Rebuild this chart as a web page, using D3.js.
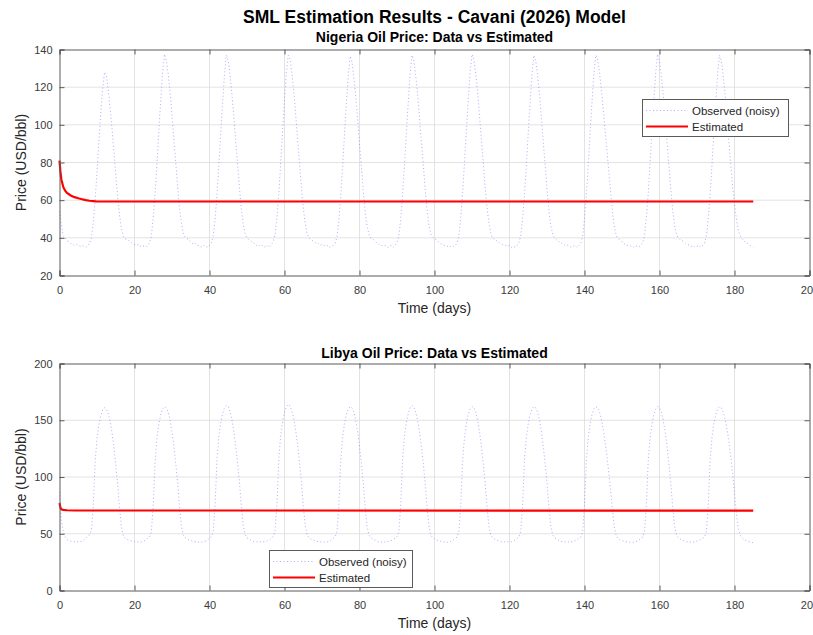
<!DOCTYPE html>
<html><head><meta charset="utf-8">
<script src="https://cdn.jsdelivr.net/npm/d3@7"></script>
<style>body{margin:0;background:#fff} svg{display:block}</style>
</head><body>
<script>
// ---------- data (0.5-day sampling) ----------
const sampleStep = 0.5;
const nigeriaObserved = [
54,47,41,40,38.5,38,37,36.5,36,36.5,36,35.5,36,35.5,35,35.5,
37,40,48,60,75,91,106,119,128,126,119,109,98,86,74,62,52,45,41,39.5,39,
38.5,38,37,36.5,36,36.5,35.5,36,35.5,35,36,
37.5,41,51,64,80,97,113,128,137.5,134,127,117,105,92,80,67,56,48,42.5,40.5,39.5,
39,38,37,37.5,36,36,35.5,35,36,35.5,35,36,
37,41,50,63,79,96,112,127,137,134,126,116,104,91,79,66,55,47,42,40,39,
38.5,37.5,37,36,36.5,35.5,36,35,35.5,36,35,36.5,
38,42,51,64,80,97,113,128,137,135,127,117,105,92,80,67,56,48,42.5,40,39,
38.5,38,37,37,36,36.5,36,35.5,36,35,35.5,36,
37,40.5,49,62,78,95,111,126,136.5,133.5,125,115,103,90,78,65,54,46.5,42,40,39.5,
38.5,37.5,37,36,36,35.5,36,35,35.5,36,35,36,
37.5,41,50,63,79,96,112,127,137,134,126,116,104,91,79,66,55,47,42,40.5,39.5,
39,38,37,36.5,36,36,35.5,35,36,35.5,36,
37,41,51,64,80,97,113,128,137.5,134.5,127,117,105,92,80,67,56,48,42.5,40,39,
38.5,38,37,36.5,36,36,35.5,36,35,35.5,35,36,
37.5,41,50,63,79,96,112,127,137,134,126,116,104,91,79,66,55,47,42,40,39,
38.5,37.5,37,36,36.5,36,35.5,35,35.5,36,35,36,
37,41,50,63,79,96,112,127,137,135,128,119,108,97,86,75,64,53,45,41,39.5,
39,38,37,36.5,36,36,35.5,35,36,35.5,35,36,
37.5,41,51,64,80,97,113,128,137.5,134,126,116,104,91,79,66,55,47,42,40,39,
38.5,38,37,36.5,36,35.5,36,35,35.5,36,35,36,
37,41,50,63,79,96,112,127,137,134,126,116,104,91,79,67,58,50,44,41,39.5,38.5,37.5,37,36,35.5,35
];
const libyaObserved = [
87,62,52,47.5,45,44,43.5,43,43,42.5,43,43,43.5,44.5,46,48,
49,53,74,113,134,146,154,159,161,160,156,149,139,126,111,94,73,56,48.5,46,45,
44.5,44,43.5,43,42.5,43,42.5,43,43.5,44.5,46,
47,52,75,115,135,147,155,160,162,161,157,150,140,127,112,95,74,57,49,46.5,45.5,
44.5,44,43.5,43,43,42.5,43,42.5,43,43.5,44.5,46,
47.5,52,76,116,136,148,156,161,163,162,157.5,150,140,127,112,95,74,57,49,46.5,45.5,
44.5,43.5,43,43,42.5,43,42.5,43,43,44,44.5,46,
48,53,77,117,137,149,157,162,164,162.5,158,151,141,128,113,96,75,58,49.5,46.5,45.5,
44.5,44,43.5,43,43,42.5,42.5,43,43,43.5,44.5,46,
47,52,75,115,135,147,155,160,162,161,157,150,140,127,112,95,74,57,49,46.5,45.5,
44.5,44,43,43,42.5,43,42.5,43,43.5,44,45,46,
47.5,52,76,116,136,148,156,161,163,161.5,157,150,140,127,112,95,74,57,49,46.5,45.5,
44.5,44,43.5,43,42.5,43,42.5,43,43.5,44.5,46,
47,52,75,115,135,147,155,160,162,161,157,150,140,127,112,95,74,57,49,46.5,45.5,
44.5,44,43.5,43,43,42.5,43,42.5,43,43.5,44.5,46,
47,52,75,115,135,147,155,160,162,161,157,150,140,127,112,95,74,57,49,46.5,45.5,
44.5,43.5,43,43,42.5,43,42.5,43,43,44,44.5,46,
47,52,75,115,135,147,155,160,162,161,157.5,151,142,131,118,103,87,70,55,48,45.5,
44.5,44,43.5,43,43,42.5,43,42.5,43,43.5,44.5,46,
47,52,75,115,135,147,155,160,162,161,157,150,140,127,112,95,74,57,49,46.5,45.5,
44.5,44,43,43,42.5,43,42.5,43,43.5,44,45,46,
47,52,75,115,135,147,155,160,162,161,157,151,142,131,118,103,86,68,55,49,46.5,45,44,43.5,43,42.5,42
];
const nigeriaEstDays = [0,0.25,0.5,1,1.5,2,3,4,5,6,7,8,9,10,185];
const nigeriaEstimated = [81,75,71,67,65,63.8,62.5,61.6,61,60.5,60,59.7,59.5,59.3,59.3];
const libyaEstDays = [0,0.25,0.5,1,2,4,185];
const libyaEstimated = [77,73,71.5,71,70.7,70.5,70.4];

const xTicks = [0,20,40,60,80,100,120,140,160,180,200];
const nigeriaYTicks = [20,40,60,80,100,120,140];
const libyaYTicks = [0,50,100,150,200];

const mainTitle = "SML Estimation Results - Cavani (2026) Model";
const panelTitles = ["Nigeria Oil Price: Data vs Estimated", "Libya Oil Price: Data vs Estimated"];
const xLabel = "Time (days)";
const yLabel = "Price (USD/bbl)";
const legendLabels = ["Observed (noisy)", "Estimated"];

// ---------- drawing ----------
const W = 813, H = 635;
const FONT = "'Liberation Sans', Arial, Helvetica, sans-serif";
const svg = d3.select("body").append("svg").attr("width", W).attr("height", H)
  .style("font-family", FONT);

svg.append("text").attr("x", 434.5).attr("y", 23).attr("text-anchor", "middle")
  .attr("font-size", 17.5).attr("font-weight", "bold").attr("fill", "#000").text(mainTitle);

const panels = [
  {obs: nigeriaObserved, estX: nigeriaEstDays, est: nigeriaEstimated, yDomain: [20,140], yTicks: nigeriaYTicks,
   top: 49.5, bottom: 275.5, title: panelTitles[0], titleY: 42, legend: {x: 642, y: 99, w: 146, h: 37}},
  {obs: libyaObserved, estX: libyaEstDays, est: libyaEstimated, yDomain: [0,200], yTicks: libyaYTicks,
   top: 363.5, bottom: 590.5, title: panelTitles[1], titleY: 358, legend: {x: 269, y: 550, w: 143, h: 37}}
];
const left = 59.5, right = 809.5;

panels.forEach(p => {
  const x = d3.scaleLinear().domain([0,200]).range([left, right]);
  const y = d3.scaleLinear().domain(p.yDomain).range([p.bottom, p.top]);
  const g = svg.append("g");

  // grid
  g.append("g").selectAll("line").data(xTicks.slice(1,-1)).join("line")
    .attr("x1", d => x(d)).attr("x2", d => x(d)).attr("y1", p.top).attr("y2", p.bottom)
    .attr("stroke", "#dcdcdc").attr("stroke-width", 0.8);
  g.append("g").selectAll("line").data(p.yTicks.slice(1,-1)).join("line")
    .attr("y1", d => y(d)).attr("y2", d => y(d)).attr("x1", left).attr("x2", right)
    .attr("stroke", "#dcdcdc").attr("stroke-width", 0.8);

  // observed (dotted blue)
  const obsLine = d3.line().x((d,i) => x(i*sampleStep)).y(d => y(d));
  g.append("path").datum(p.obs).attr("d", obsLine).attr("fill", "none")
    .attr("stroke", "#3a3aff").attr("stroke-opacity", 0.5).attr("stroke-width", 0.85)
    .attr("stroke-dasharray", "1 2.5");

  // estimated (red)
  const estLine = d3.line().x((d,i) => x(p.estX[i])).y(d => y(d));
  g.append("path").datum(p.est).attr("d", estLine).attr("fill", "none")
    .attr("stroke", "#ff0000").attr("stroke-width", 2.2);

  // axes
  const ax = g.append("g").attr("transform", `translate(0,${p.bottom})`)
    .call(d3.axisBottom(x).tickValues(xTicks).tickSize(-5).tickPadding(10.5).tickFormat(d3.format("d")));
  const axT = g.append("g").attr("transform", `translate(0,${p.top})`)
    .call(d3.axisTop(x).tickValues(xTicks).tickSize(-5).tickFormat(""));
  const ay = g.append("g").attr("transform", `translate(${left},0)`)
    .call(d3.axisLeft(y).tickValues(p.yTicks).tickSize(-5).tickPadding(7).tickFormat(d3.format("d")));
  const ayR = g.append("g").attr("transform", `translate(${right},0)`)
    .call(d3.axisRight(y).tickValues(p.yTicks).tickSize(-5).tickFormat(""));
  [ax, axT, ay, ayR].forEach(a => {
    a.select(".domain").attr("stroke", "#5a5a5a").attr("stroke-width", 1);
    a.selectAll(".tick line").attr("stroke", "#5a5a5a").attr("stroke-width", 1);
    a.selectAll("text").attr("font-size", 11).attr("fill", "#3a3a3a").attr("font-family", FONT);
  });

  // labels
  g.append("text").attr("x", (left+right)/2).attr("y", p.bottom + 37.5).attr("text-anchor", "middle")
    .attr("font-size", 14).attr("fill", "#262626").text(xLabel);
  g.append("text").attr("transform", `translate(26,${(p.top+p.bottom)/2}) rotate(-90)`)
    .attr("text-anchor", "middle").attr("font-size", 14).attr("fill", "#262626").text(yLabel);
  g.append("text").attr("x", (left+right)/2).attr("y", p.titleY).attr("text-anchor", "middle")
    .attr("font-size", 14).attr("font-weight", "bold").attr("fill", "#000").text(p.title);

  // legend
  const L = p.legend;
  const lg = g.append("g").attr("transform", `translate(${L.x},${L.y})`);
  lg.append("rect").attr("x", 0.5).attr("y", 0.5).attr("width", L.w).attr("height", L.h)
    .attr("fill", "#fff").attr("stroke", "#5a5a5a").attr("stroke-width", 1);
  const rowY = [11.5, 27.5];
  lg.append("line").attr("x1", 4).attr("x2", 46).attr("y1", rowY[0]).attr("y2", rowY[0])
    .attr("stroke", "#3a3aff").attr("stroke-opacity", 0.5).attr("stroke-width", 0.85).attr("stroke-dasharray", "1 2.5");
  lg.append("line").attr("x1", 4).attr("x2", 46).attr("y1", rowY[1]).attr("y2", rowY[1])
    .attr("stroke", "#ff0000").attr("stroke-width", 2.2);
  legendLabels.forEach((t,i) => {
    lg.append("text").attr("x", 50).attr("y", rowY[i] + 4).attr("font-size", 11.5)
      .attr("fill", "#262626").text(t);
  });
});
</script>
</body></html>
